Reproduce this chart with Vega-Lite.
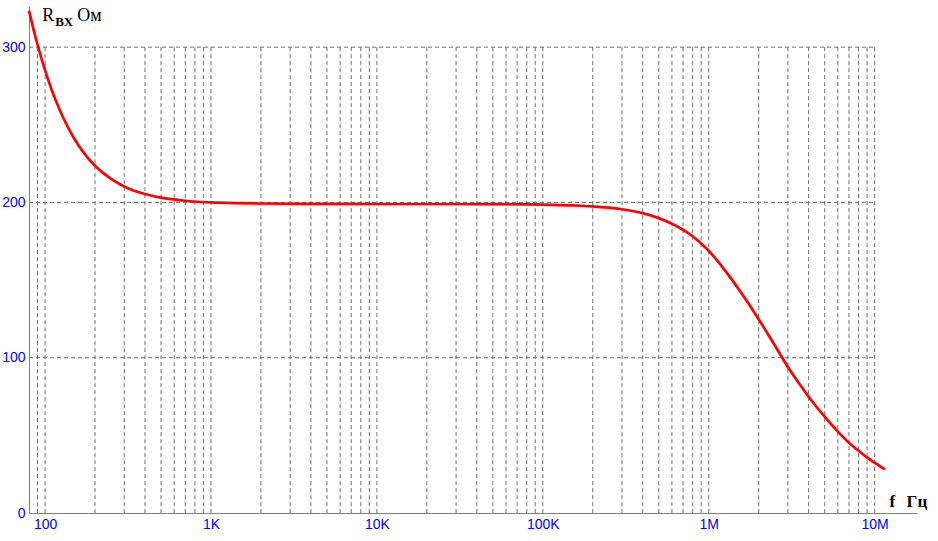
{
  "$schema": "https://vega.github.io/schema/vega-lite/v6.json",
  "width": 888,
  "height": 507,
  "autosize": {"type": "none"},
  "padding": {"left": 29, "top": 6, "right": 21, "bottom": 28},
  "background": "white",
  "config": {"view": {"stroke": null}},
  "datasets": {
    "curve": [
      {"f": 80, "R": 323.5}, {"f": 85, "R": 311.8}, {"f": 90, "R": 301.7}, {"f": 100, "R": 285},
      {"f": 110, "R": 272}, {"f": 125, "R": 257.4}, {"f": 150, "R": 241}, {"f": 175, "R": 230.6},
      {"f": 200, "R": 223.6}, {"f": 250, "R": 215.1}, {"f": 300, "R": 210.3}, {"f": 400, "R": 205.4},
      {"f": 500, "R": 203.1}, {"f": 700, "R": 201.1}, {"f": 1000, "R": 200}, {"f": 1500, "R": 199.5},
      {"f": 2000, "R": 199.3}, {"f": 5000, "R": 199.1}, {"f": 10000, "R": 199}, {"f": 30000, "R": 199},
      {"f": 60000, "R": 198.9}, {"f": 100000, "R": 198.6}, {"f": 150000, "R": 198.1}, {"f": 200000, "R": 197.5},
      {"f": 300000, "R": 195.6}, {"f": 400000, "R": 193.1}, {"f": 500000, "R": 189.9}, {"f": 600000, "R": 186.3},
      {"f": 700000, "R": 182.4}, {"f": 800000, "R": 178.2}, {"f": 900000, "R": 173.5}, {"f": 1000000, "R": 168.9},
      {"f": 1200000, "R": 158.8}, {"f": 1400000, "R": 149.3}, {"f": 1700000, "R": 136.4}, {"f": 2000000, "R": 124.8},
      {"f": 2500000, "R": 108}, {"f": 3000000, "R": 94}, {"f": 3500000, "R": 83.5}, {"f": 4000000, "R": 74.9},
      {"f": 5000000, "R": 62}, {"f": 6000000, "R": 52.4}, {"f": 7000000, "R": 45.3},
      {"f": 8000000, "R": 40.1}, {"f": 9000000, "R": 35.8}, {"f": 10000000, "R": 32.4}, {"f": 11500000, "R": 28.1}
    ],
    "vgrid": [
      {"f": 90}, {"f": 100}, {"f": 200}, {"f": 300}, {"f": 400}, {"f": 500}, {"f": 600}, {"f": 700}, {"f": 800}, {"f": 900},
      {"f": 1000}, {"f": 2000}, {"f": 3000}, {"f": 4000}, {"f": 5000}, {"f": 6000}, {"f": 7000}, {"f": 8000}, {"f": 9000},
      {"f": 10000}, {"f": 20000}, {"f": 30000}, {"f": 40000}, {"f": 50000}, {"f": 60000}, {"f": 70000}, {"f": 80000}, {"f": 90000},
      {"f": 100000}, {"f": 200000}, {"f": 300000}, {"f": 400000}, {"f": 500000}, {"f": 600000}, {"f": 700000}, {"f": 800000}, {"f": 900000},
      {"f": 1000000}, {"f": 2000000}, {"f": 3000000}, {"f": 4000000}, {"f": 5000000}, {"f": 6000000}, {"f": 7000000}, {"f": 8000000}, {"f": 9000000},
      {"f": 10000000}
    ],
    "hgrid": [{"R": 100}, {"R": 200}, {"R": 300}]
  },
  "layer": [
    {
      "data": {"name": "vgrid"},
      "mark": {"type": "rule", "orient": "vertical", "color": "#6e6e6e", "strokeWidth": 1, "strokeDash": [4, 3]},
      "encoding": {
        "x": {
          "field": "f", "type": "quantitative",
          "scale": {"type": "log", "domain": [80, 18000000], "nice": false},
          "axis": {
            "values": [100, 1000, 10000, 100000, 1000000, 10000000],
            "labelExpr": "datum.value >= 1000000 ? (datum.value / 1000000) + 'M' : datum.value >= 1000 ? (datum.value / 1000) + 'K' : '' + datum.value",
            "title": null, "grid": false, "ticks": false,
            "domainColor": "#808080", "domainWidth": 1,
            "labelColor": "#0000FF", "labelFont": "Liberation Sans", "labelFontSize": 14,
            "labelPadding": 4, "labelFlush": false, "labelOverlap": false
          }
        },
        "y": {
          "datum": 300, "type": "quantitative",
          "scale": {"domain": [0, 326.5], "nice": false, "zero": false},
          "axis": {
            "values": [0, 100, 200, 300],
            "title": null, "grid": false, "ticks": false,
            "domainColor": "#808080", "domainWidth": 1,
            "labelColor": "#0000FF", "labelFont": "Liberation Sans", "labelFontSize": 14,
            "labelPadding": 4, "labelFlush": false, "labelOverlap": false
          }
        },
        "y2": {"datum": 0}
      }
    },
    {
      "data": {"name": "hgrid"},
      "mark": {"type": "rule", "orient": "horizontal", "color": "#6e6e6e", "strokeWidth": 1, "strokeDash": [4, 3]},
      "encoding": {
        "y": {"field": "R", "type": "quantitative"},
        "x": {"datum": 80, "type": "quantitative"},
        "x2": {"datum": 10000000}
      }
    },
    {
      "data": {"name": "curve"},
      "mark": {"type": "line", "color": "#FF0000", "strokeWidth": 2.7, "interpolate": "monotone"},
      "encoding": {
        "x": {"field": "f", "type": "quantitative"},
        "y": {"field": "R", "type": "quantitative"}
      }
    },
    {
      "data": {"values": [{"t": "R"}]},
      "mark": {"type": "text", "font": "Liberation Serif", "fontSize": 18, "color": "black", "align": "left", "baseline": "alphabetic"},
      "encoding": {"x": {"datum": 96, "type": "quantitative"}, "y": {"datum": 317, "type": "quantitative"}, "text": {"field": "t"}}
    },
    {
      "data": {"values": [{"t": "BX"}]},
      "mark": {"type": "text", "font": "Liberation Serif", "fontSize": 13, "fontWeight": "bold", "color": "black", "align": "left", "baseline": "alphabetic", "dx": 13, "dy": 5.5},
      "encoding": {"x": {"datum": 96, "type": "quantitative"}, "y": {"datum": 317, "type": "quantitative"}, "text": {"field": "t"}}
    },
    {
      "data": {"values": [{"t": "Ом"}]},
      "mark": {"type": "text", "font": "Liberation Serif", "fontSize": 18, "color": "black", "align": "left", "baseline": "alphabetic", "dx": 35},
      "encoding": {"x": {"datum": 96, "type": "quantitative"}, "y": {"datum": 317, "type": "quantitative"}, "text": {"field": "t"}}
    },
    {
      "data": {"values": [{"t": "f"}]},
      "mark": {"type": "text", "font": "Liberation Serif", "fontSize": 17, "fontWeight": "bold", "color": "black", "align": "left", "baseline": "alphabetic"},
      "encoding": {"x": {"datum": 12310000, "type": "quantitative"}, "y": {"datum": 4.06, "type": "quantitative"}, "text": {"field": "t"}}
    },
    {
      "data": {"values": [{"t": "Гц"}]},
      "mark": {"type": "text", "font": "Liberation Serif", "fontSize": 17, "fontWeight": "bold", "color": "black", "align": "left", "baseline": "alphabetic", "dx": 17},
      "encoding": {"x": {"datum": 12310000, "type": "quantitative"}, "y": {"datum": 4.06, "type": "quantitative"}, "text": {"field": "t"}}
    }
  ]
}
